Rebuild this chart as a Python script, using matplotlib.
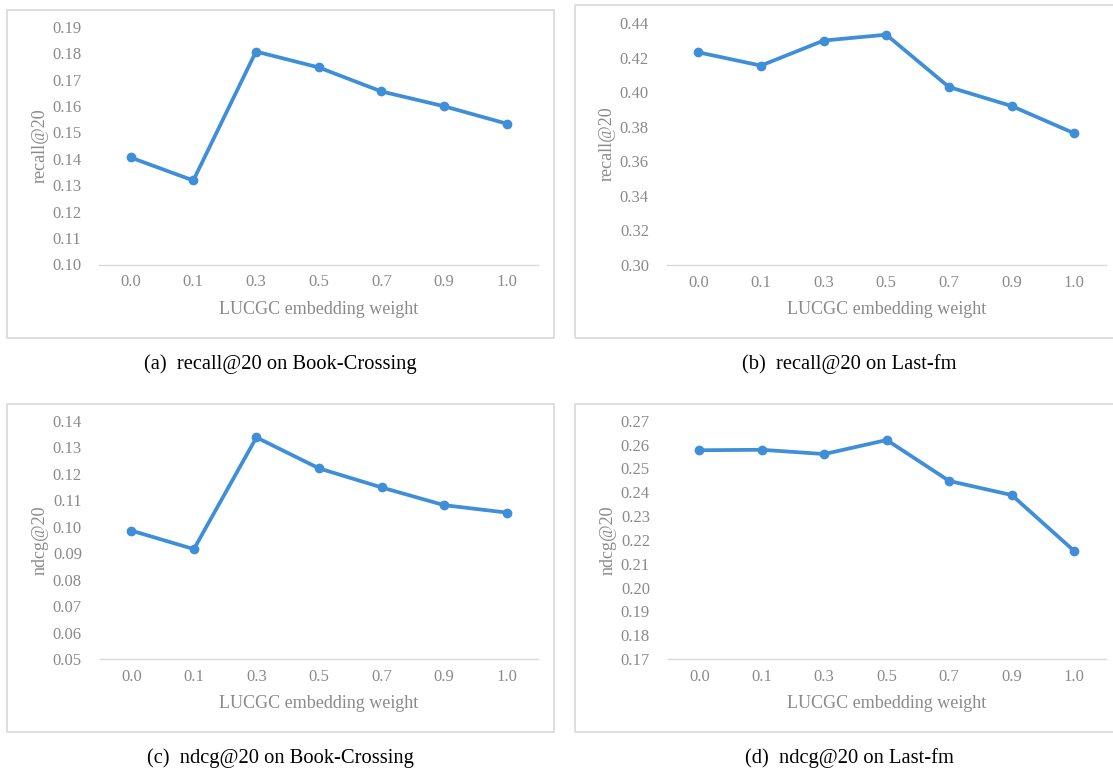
import numpy as np
import matplotlib
matplotlib.use("Agg")
import matplotlib.pyplot as plt
from matplotlib.patches import Rectangle

plt.rcParams['font.family'] = ['Liberation Serif', 'DejaVu Serif']

# LUCGC embedding weight values on the x axis
weights = ['0.0', '0.1', '0.3', '0.5', '0.7', '0.9', '1.0']

recall_book = [0.1405, 0.1318, 0.1806, 0.1746, 0.1655, 0.1599, 0.1533]
recall_lastfm = [0.4232, 0.4155, 0.4300, 0.4334, 0.4031, 0.3921, 0.3763]
ndcg_book = [0.0985, 0.0915, 0.1337, 0.1220, 0.1148, 0.1081, 0.1053]
ndcg_lastfm = [0.2576, 0.2578, 0.2560, 0.2619, 0.2447, 0.2388, 0.2153]

# y axis range and step for each panel
yrange_recall_book = (0.10, 0.19, 0.01)
yrange_recall_lastfm = (0.30, 0.44, 0.02)
yrange_ndcg_book = (0.05, 0.14, 0.01)
yrange_ndcg_lastfm = (0.17, 0.27, 0.01)

captions = ['(a)  recall@20 on Book-Crossing', '(b)  recall@20 on Last-fm',
            '(c)  ndcg@20 on Book-Crossing', '(d)  ndcg@20 on Last-fm']

W, H = 1113, 774
LINE = '#3f8ed8'
GREY = '#8a8a8a'
FRAME = '#d9d9d9'


def px_rect(left, top, right, bottom):
    # pixel box (origin top-left) -> figure fraction [l, b, w, h]
    return [left / W, 1 - bottom / H, (right - left) / W, (bottom - top) / H]


def draw_panel(fig, rect, values, yrange, ylabel):
    ax = fig.add_axes(rect)
    x = np.arange(len(weights))
    ax.plot(x, values, color=LINE, lw=2.7, marker='o', ms=6, zorder=3)

    lo, hi, step = yrange
    ticks = np.round(np.arange(lo, hi + step / 2, step), 2)
    ax.set_ylim(lo, hi)
    ax.set_yticks(ticks)
    ax.set_yticklabels(['%.2f' % t for t in ticks])
    ax.set_xlim(-0.5, len(weights) - 0.5)
    ax.set_xticks(x)
    ax.set_xticklabels(weights)

    for side in ['top', 'right', 'left']:
        ax.spines[side].set_visible(False)
    ax.spines['bottom'].set_color(FRAME)
    ax.spines['bottom'].set_linewidth(1.0)
    ax.tick_params(axis='both', length=0, labelsize=12, labelcolor=GREY)
    ax.tick_params(axis='y', pad=13)
    ax.tick_params(axis='x', pad=7)

    h_px = rect[3] * H
    w_px = rect[2] * W
    ax.set_xlabel('LUCGC embedding weight', fontsize=13, color=GREY, va='center')
    ax.xaxis.set_label_coords(0.5, -44.5 / h_px)
    ax.set_ylabel(ylabel, fontsize=13, color=GREY, va='center')
    ax.yaxis.set_label_coords(-59.5 / w_px, 0.5)
    return ax


fig = plt.figure(figsize=(W / 100, H / 100), dpi=100)

# light frames around each chart
frames = [(7, 10, 554.3, 337.7), (575.3, 5, 1120, 338.3),
          (7, 404, 554.3, 732.3), (575.3, 404, 1120, 731.7)]
for l, t, r, b in frames:
    fig.add_artist(Rectangle((l / W, 1 - b / H), (r - l) / W, (b - t) / H,
                             transform=fig.transFigure, fill=False,
                             edgecolor=FRAME, lw=1.2))

draw_panel(fig, px_rect(99.3, 26.7, 538, 264.5), recall_book, yrange_recall_book, 'recall@20')
draw_panel(fig, px_rect(667, 23.3, 1105.5, 265), recall_lastfm, yrange_recall_lastfm, 'recall@20')
draw_panel(fig, px_rect(100, 420.7, 538, 659), ndcg_book, yrange_ndcg_book, 'ndcg@20')
draw_panel(fig, px_rect(668, 420.7, 1105.5, 659), ndcg_lastfm, yrange_ndcg_lastfm, 'ndcg@20')

for (cx, cy), text in zip([(280, 364), (849, 364), (280, 758), (849, 758)], captions):
    fig.text(cx / W, 1 - cy / H, text, ha='center', va='center', fontsize=14.8, color='black')

fig.savefig('out.png', dpi=100)
